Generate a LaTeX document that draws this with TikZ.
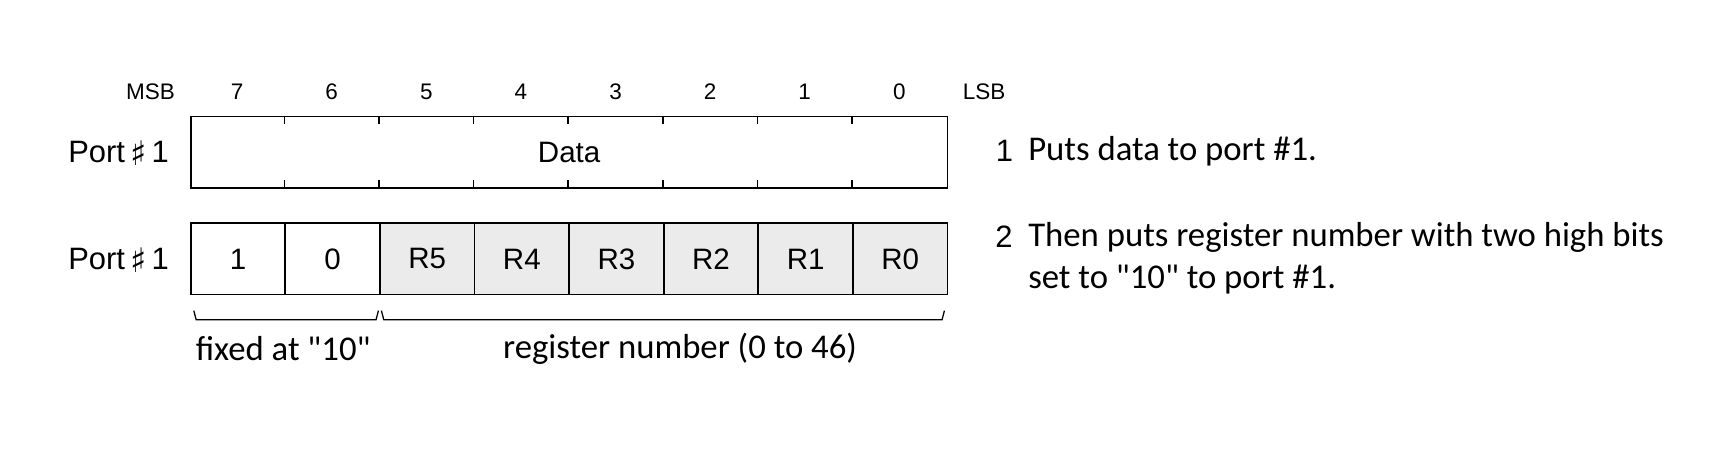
\documentclass[tikz,border=0pt]{standalone}
\usepackage{fontspec}
\setmainfont{Carlito}[Ligatures=TeXOff]
\newfontfamily\labelfont{Liberation Sans}
\newfontfamily\symfont{DejaVu Sans}
\usetikzlibrary{positioning}

\newcommand{\portsharp}{\smash{\raisebox{-0.1em}{\symfont\fontsize{24}{24}\selectfont ♯}}}

\tikzset{
    cell/.style={draw, line width=1.3pt, minimum width=2.365cm, minimum height=1.78cm,
        inner sep=0pt, font=\labelfont\fontsize{21}{25}\selectfont},
    regcell/.style={cell, fill=black!8},
    bitnum/.style={font=\labelfont\fontsize{16}{19}\selectfont},
    portlbl/.style={font=\labelfont\fontsize{22}{26}\selectfont},
    note/.style={font=\fontsize{24.7}{30}\selectfont, align=left, inner sep=0pt},
    bracket/.style={line width=0.9pt}
}

\begin{document}
\begin{tikzpicture}
    \useasboundingbox (0,0) rectangle (43,-11.325);

    % First write: whole byte is data
    \node[cell, minimum width=18.92cm, anchor=north west] (data) at (4.745,-2.89) {Data};
    \foreach \i in {1,...,7} {
        \draw[line width=1.1pt] ([xshift=\i*2.365cm]data.north west) -- ++(0,-0.22);
        \draw[line width=1.1pt] ([xshift=\i*2.365cm]data.south west) -- ++(0,0.22);
    }

    % Bit numbers above
    \foreach \i in {0,...,7} {
        \pgfmathtruncatemacro{\b}{7-\i}
        \node[bitnum] (bit\b) at (4.745+\i*2.365+1.1825, -2.3) {\b};
    }
    \node[bitnum] (msb) at (3.76,-2.3) {MSB};
    \node[bitnum] (lsb) at (24.6,-2.3) {LSB};

    % Second write: "10" then register number
    \foreach \lbl [count=\i from 0] in {1,0} {
        \node[cell, anchor=north west] (c\i) at (4.745+\i*2.365,-5.56) {\lbl};
    }
    \foreach \lbl [count=\i from 2] in {R5,R4,R3,R2,R1,R0} {
        \node[regcell, anchor=north west] (c\i) at (4.745+\i*2.365,-5.56) {\lbl};
    }

    % Port labels
    \node[portlbl, left=0.4cm of data] (port1) {Port\,\portsharp\,1};
    \node[portlbl, left=0.4cm of c0] (port2) {Port\,\portsharp\,1};

    % Brackets under the fields
    \draw[bracket] ([shift={(0.1,-0.38)}]c0.south west) -- ++(0.06,-0.23)
        -- ([shift={(-0.12,-0.61)}]c1.south east) -- ++(0.06,0.23);
    \draw[bracket] ([shift={(0.06,-0.38)}]c2.south west) -- ++(0.06,-0.23)
        -- ([shift={(-0.16,-0.61)}]c7.south east) -- ++(0.06,0.23);
    \node[note] (fixed) at (7.08,-8.72) {fixed at "10"};
    \node[note] (regno) at (17.0,-8.72) {register number (0 to 46)};

    % Steps
    \node[note, anchor=west] (step1) at (25.7,-3.78) {Puts data to port \#1.};
    \node[portlbl, left=0.25cm of step1] (num1) {1};
    \node[note, anchor=west] (step2) at (25.7,-6.45)
        {Then puts register number with two high bits\\set to "10" to port \#1.};
    \node[portlbl] (num2) at (25.1,-5.92) {2};
\end{tikzpicture}
\end{document}
